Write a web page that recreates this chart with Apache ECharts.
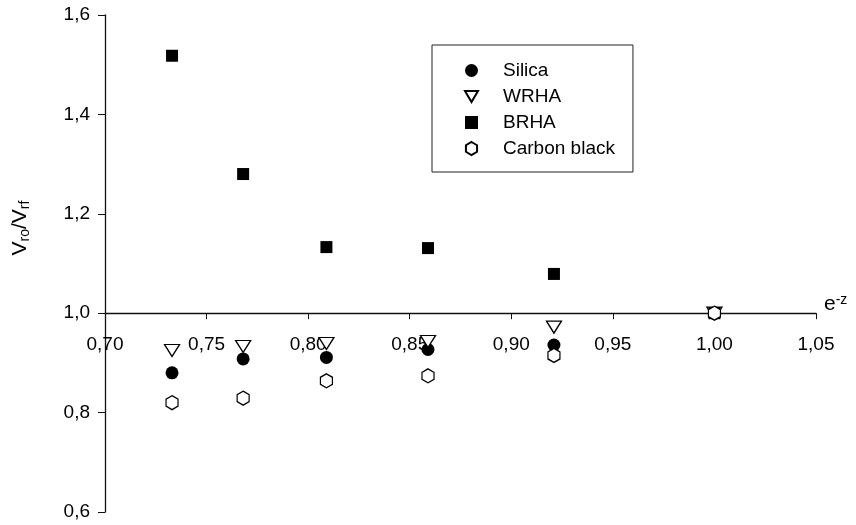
<!DOCTYPE html>
<html>
<head>
<meta charset="utf-8">
<script src="https://cdn.jsdelivr.net/npm/echarts@6/dist/echarts.min.js"></script>
<style>
html,body{margin:0;padding:0;background:#fff;}
#chart{width:856px;height:525px;}
</style>
</head>
<body>
<div id="chart"></div>
<script>
// ---- data ----
const xValues   = [0.733, 0.768, 0.809, 0.859, 0.921, 1.000];
const silica    = [0.880, 0.908, 0.911, 0.927, 0.936, 1.000];
const wrha      = [0.925, 0.933, 0.939, 0.943, 0.972, 1.000];
const brha      = [1.518, 1.280, 1.133, 1.131, 1.079, 1.000];
const carbon    = [0.820, 0.829, 0.864, 0.874, 0.915, 1.000];
const seriesNames = ['Silica', 'WRHA', 'BRHA', 'Carbon black'];
const xTicks = [0.70, 0.75, 0.80, 0.85, 0.90, 0.95, 1.00, 1.05];
const yTicks = [0.6, 0.8, 1.0, 1.2, 1.4, 1.6];

// ---- layout ----
const G = {left:105, right:40, top:15, bottom:13};
const H = 525 - G.top - G.bottom;
const yMin = yTicks[0], yMax = yTicks[yTicks.length-1];
const xCross = 1.0;
const xAxisOffset = -((xCross - yMin) / (yMax - yMin) * H);

const hexPath = 'path://M6,0 L12,3.5 L12,10.5 L6,14 L0,10.5 L0,3.5 Z';
const triPath = 'path://M0,0 L14,0 L7,12 Z';

function pairs(ys){ return xValues.map((x,i)=>[x, ys[i]]); }

const FONT = 'Liberation Sans, Arial, sans-serif';
const chart = echarts.init(document.getElementById('chart'), null, {renderer:'canvas'});
chart.setOption({
  animation:false,
  backgroundColor:'#fff',
  textStyle:{fontFamily:FONT, color:'#000'},
  grid:{left:G.left, right:G.right, top:G.top, bottom:G.bottom, containLabel:false},
  xAxis:{
    type:'value', min:xTicks[0], max:xTicks[xTicks.length-1], interval:0.05,
    position:'bottom', offset:xAxisOffset,
    axisLine:{onZero:false, lineStyle:{color:'#111', width:1.3}},
    axisTick:{show:true, inside:false, length:6, lineStyle:{color:'#111'}},
    axisLabel:{margin:22, fontSize:19, color:'#000', fontFamily:FONT,
      formatter:v=>v.toFixed(2).replace('.', ','), showMinLabel:true, showMaxLabel:true},
    splitLine:{show:false}
  },
  yAxis:{
    type:'value', min:yMin, max:yMax, interval:0.2,
    axisLine:{show:true, onZero:false, lineStyle:{color:'#111', width:1.3}},
    axisTick:{show:true, inside:false, length:7, lineStyle:{color:'#111'}},
    axisLabel:{margin:15, fontSize:19, color:'#000', fontFamily:FONT,
      formatter:v=>v.toFixed(1).replace('.', ',')},
    splitLine:{show:false}
  },
  legend:{
    orient:'vertical', left:432, top:45,
    padding:[16,18,14,32], itemGap:7, itemWidth:13, itemHeight:13,
    borderColor:'#222', borderWidth:1,
    textStyle:{fontSize:19, color:'#000', fontFamily:FONT, padding:[0,0,0,20]},
    data:[
      {name:seriesNames[0], icon:'circle'},
      {name:seriesNames[1], icon:triPath},
      {name:seriesNames[2], icon:'rect'},
      {name:seriesNames[3], icon:hexPath}
    ]
  },
  series:[
    {name:seriesNames[0], type:'scatter', data:pairs(silica), symbol:'circle', symbolSize:13,
     itemStyle:{color:'#000', opacity:1}},
    {name:seriesNames[1], type:'scatter', data:pairs(wrha), symbol:triPath, symbolSize:[15,12],
     itemStyle:{color:'#fff', borderColor:'#000', borderWidth:1.3, opacity:1}},
    {name:seriesNames[2], type:'scatter', data:pairs(brha), symbol:'rect', symbolSize:12,
     itemStyle:{color:'#000', opacity:1}},
    {name:seriesNames[3], type:'scatter', data:pairs(carbon), symbol:hexPath, symbolSize:[12,14],
     itemStyle:{color:'#fff', borderColor:'#000', borderWidth:1.3, opacity:1}}
  ],
  graphic:[
    {type:'text', x:20, y:228, rotation:Math.PI/2, z:100,
     style:{
       text:'{m|V}{s|ro}{m|/V}{s|rf}', align:'center', verticalAlign:'middle',
       rich:{
         m:{fontSize:21, fontFamily:FONT, fill:'#000', lineHeight:22},
         s:{fontSize:14, fontFamily:FONT, fill:'#000', lineHeight:14, padding:[11,0,0,0]}
       }
     }},
    {type:'text', x:824, y:294, z:100,
     style:{
       text:'{m|e}{p|-z}', align:'left', verticalAlign:'top',
       rich:{
         m:{fontSize:21, fontFamily:FONT, fill:'#000', lineHeight:21},
         p:{fontSize:14, fontFamily:FONT, fill:'#000', lineHeight:14, padding:[0,0,9,0]}
       }
     }}
  ]
});
</script>
</body>
</html>
